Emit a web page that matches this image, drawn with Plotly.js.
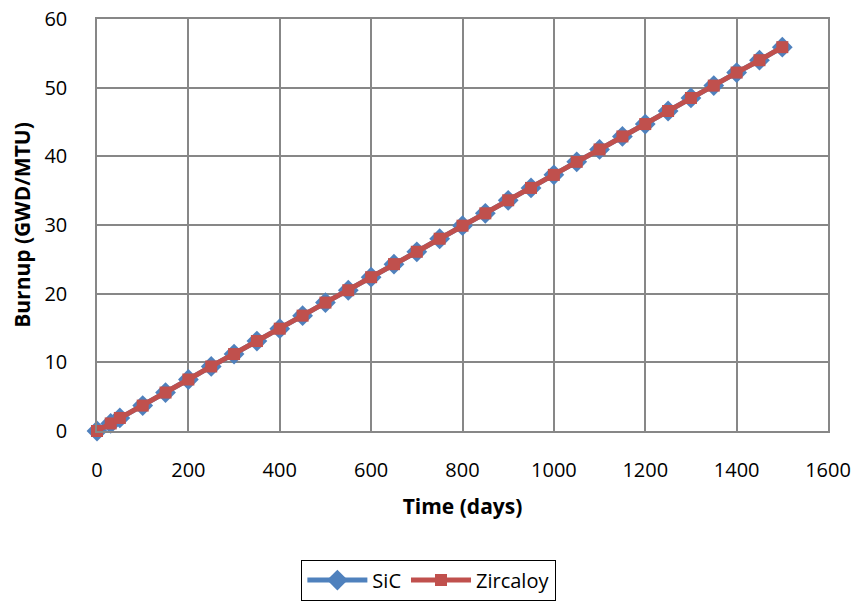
<!DOCTYPE html>
<html><head><meta charset="utf-8">
<script src="https://cdn.plot.ly/plotly-3.0.1.min.js"></script>
<style>body{margin:0;background:#fff}#c{width:860px;height:603px}</style>
</head><body><div id="c"></div>
<script>
const days = [0, 30, 50, 100, 150, 200, 250, 300, 350, 400, 450, 500, 550, 600, 650, 700, 750, 800, 850, 900, 950, 1000, 1050, 1100, 1150, 1200, 1250, 1300, 1350, 1400, 1450, 1500];
const sicBurnup = [0, 1.1, 1.9, 3.7, 5.6, 7.5, 9.4, 11.2, 13.1, 14.9, 16.8, 18.7, 20.5, 22.4, 24.3, 26.1, 28.0, 29.9, 31.7, 33.6, 35.4, 37.3, 39.2, 41.0, 42.9, 44.7, 46.6, 48.5, 50.3, 52.2, 54.0, 55.9];
const zircBurnup = [0, 1.1, 1.9, 3.7, 5.6, 7.5, 9.4, 11.2, 13.1, 14.9, 16.8, 18.7, 20.5, 22.4, 24.3, 26.1, 28.0, 29.9, 31.7, 33.6, 35.4, 37.3, 39.2, 41.0, 42.9, 44.7, 46.6, 48.5, 50.3, 52.2, 54.0, 55.9];
const font = "Open Sans, Liberation Sans, sans-serif";
const traces = [
  {x: days, y: sicBurnup, name: 'SiC', mode: 'lines+markers', type: 'scatter', cliponaxis: false,
   line: {color: '#4F81BD', width: 5}, marker: {symbol: 'diamond', size: 16, color: '#4F81BD'}},
  {x: days, y: zircBurnup, name: 'Zircaloy', mode: 'lines+markers', type: 'scatter', cliponaxis: false,
   line: {color: '#C0504D', width: 5}, marker: {symbol: 'square', size: 12, color: '#C0504D'}}
];
const layout = {
  width: 860, height: 603,
  margin: {l: 97, r: 32, t: 19, b: 172, autoexpand: false},
  paper_bgcolor: '#fff', plot_bgcolor: '#fff',
  font: {family: font, size: 20, color: '#000'},
  showlegend: true,
  xaxis: {range: [0, 1600], dtick: 200, tick0: 0, showgrid: true, gridcolor: '#878787', gridwidth: 1.5,
    showline: true, linecolor: '#878787', linewidth: 1.5, mirror: true, zeroline: false, automargin: false,
    ticks: 'outside', ticklen: 20, tickcolor: 'rgba(0,0,0,0)', tickfont: {size: 20},
    title: {text: '<b>Time (days)</b>', font: {size: 21}, standoff: 18}},
  yaxis: {range: [0, 60], dtick: 10, tick0: 0, showgrid: true, gridcolor: '#878787', gridwidth: 1.5,
    showline: true, linecolor: '#878787', linewidth: 1.5, mirror: true, zeroline: false, automargin: false,
    ticks: 'outside', ticklen: 24, tickcolor: 'rgba(0,0,0,0)', tickfont: {size: 20},
    title: {text: '<b>Burnup (GWD/MTU)</b>', font: {size: 21}, standoff: 8}},
  legend: {orientation: 'h', x: 0.454, xanchor: 'center', y: -0.312, yanchor: 'top',
    bordercolor: '#000', borderwidth: 1, font: {size: 20}, itemwidth: 60, tracegroupgap: 0}
};
Plotly.newPlot('c', traces, layout, {displayModeBar: false});
</script></body></html>
